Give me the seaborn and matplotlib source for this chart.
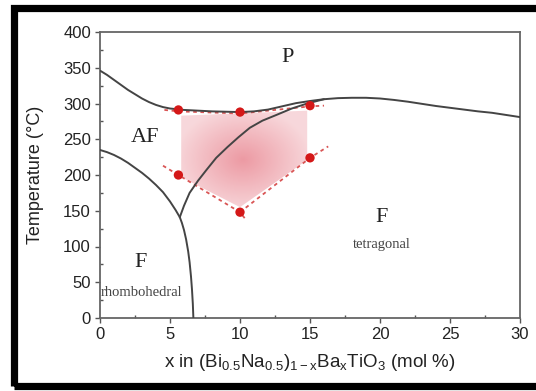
import numpy as np
import pandas as pd
import matplotlib
matplotlib.use('Agg')
import matplotlib.pyplot as plt
from matplotlib.patches import Polygon, Rectangle
import seaborn as sns

# phase boundaries
tc_x = [0, 0.5, 1, 1.5, 2, 2.5, 3, 3.5, 4, 4.5, 5, 6, 7, 8, 9, 10, 11, 12, 13, 14, 15,
        16, 17, 18, 19, 20, 21, 22, 23, 24, 25, 26, 27, 28, 29, 30]
tc_T = [346, 340, 333, 326, 319, 313, 307, 302, 298, 295, 293, 291, 290, 289, 288.5, 288,
        289, 291.5, 296, 300.5, 303.5, 306, 307.5, 308, 308, 307, 305, 302.5, 299.5, 296.5,
        294, 291.5, 289, 287, 284, 281]

af_x = [0, 0.5, 1, 1.5, 2, 2.5, 3, 3.5, 4, 4.5, 5, 5.4, 5.7]
af_T = [235, 232, 228, 223, 217, 210, 203, 195, 186, 176, 163, 151, 141]

rh_x = [5.7, 5.85, 6.0, 6.15, 6.3, 6.4, 6.5, 6.57, 6.63, 6.67]
rh_T = [141, 133, 123, 110, 93, 78, 58, 40, 20, 0]

mpb_x = [5.7, 6.0, 6.4, 7.0, 7.6, 8.3, 9.1, 9.9, 10.7, 11.6, 12.6, 13.7, 14.8, 16.0]
mpb_T = [141, 157, 175, 192, 207, 224, 239, 253, 266, 276, 284, 293, 300, 306]

# measured points (red dots)
pt_x = [5.6, 10, 15, 5.6, 10, 15]
pt_T = [291, 288, 297, 200, 148, 224]

# dashed guide lines
top_x = [4.6, 5.6, 10, 15, 16]
top_T = [291, 289, 286, 296, 297]
low_l_x = [4.5, 5.6, 10, 10.4]
low_l_T = [213, 200, 148, 138]
low_r_x = [10, 15, 16.3]
low_r_T = [148, 224, 240]

# shaded region outline
reg_x = [5.8, 14.8, 14.8, 10, 5.8]
reg_T = [283, 290, 221, 155, 197]

sns.set_theme(style='ticks')
plt.rcParams['font.family'] = ['Liberation Sans', 'DejaVu Sans']
plt.rcParams['mathtext.default'] = 'regular'

fig = plt.figure(figsize=(5.36, 3.91), dpi=100)
ax = fig.add_axes([100/536, 1 - 318/391, 420/536, 286/391])

# pink shaded region with a soft radial gradient
poly = Polygon(np.column_stack([reg_x, reg_T]), closed=True, facecolor='none', edgecolor='none')
ax.add_patch(poly)
gx, gy = np.meshgrid(np.linspace(5.8, 14.8, 200), np.linspace(155, 290, 200))
r = np.sqrt(((gx - 10.2) / 5.0) ** 2 + ((gy - 221) / 75.0) ** 2)
alpha = np.clip(0.72 - 0.45 * r, 0.28, 0.72)
img = np.zeros(gx.shape + (4,))
img[..., 0] = 0.90
img[..., 1] = 0.45
img[..., 2] = 0.50
img[..., 3] = alpha
im = ax.imshow(img, extent=[5.8, 14.8, 155, 290], origin='lower', aspect='auto', zorder=1)
im.set_clip_path(poly)

line_col = '#444444'
for xs, ts in [(tc_x, tc_T), (af_x, af_T), (rh_x, rh_T), (mpb_x, mpb_T)]:
    sns.lineplot(x=xs, y=ts, ax=ax, color=line_col, lw=1.4, sort=False, zorder=3)

red = '#d95555'
for xs, ts in [(top_x, top_T), (low_l_x, low_l_T), (low_r_x, low_r_T)]:
    sns.lineplot(x=xs, y=ts, ax=ax, color=red, lw=1.3, sort=False, dashes=False,
                 linestyle=(0, (2, 2)), zorder=2)

sns.scatterplot(x=pt_x, y=pt_T, ax=ax, color='#d41818', s=45, edgecolor='none', zorder=4)

ax.set_xlim(0, 30)
ax.set_ylim(0, 400)
ax.set_xticks(range(0, 31, 5))
ax.set_yticks(range(0, 401, 50))
ax.set_xticks(np.arange(0, 30.1, 2.5), minor=True)
ax.set_yticks(range(0, 401, 25), minor=True)
ax.tick_params(which='major', direction='out', length=3.5, width=1, color='#555',
               labelsize=12, labelcolor='#222', pad=3)
ax.tick_params(which='minor', direction='in', length=2.5, width=1, color='#555')
for s in ax.spines.values():
    s.set_visible(True)
    s.set_color('#666')
    s.set_linewidth(1.3)

ax.set_ylabel('Temperature (°C)', fontsize=13, color='#222', labelpad=14)
ax.set_xlabel(r'x in (Bi$_{0.5}$Na$_{0.5}$)$_{1-x}$Ba$_x$TiO$_3$ (mol %)',
              fontsize=13.5, color='#222', labelpad=7)

serif = ['Liberation Serif', 'DejaVu Serif']
ax.text(13.4, 364, 'P', family=serif, fontsize=16, ha='center', va='center', color='#222')
ax.text(3.2, 253, 'AF', family=serif, fontsize=16, ha='center', va='center', color='#222')
ax.text(2.9, 78, 'F', family=serif, fontsize=16, ha='center', va='center', color='#222')
ax.text(3.0, 36, 'rhombohedral', family=serif, fontsize=10.5, ha='center', va='center', color='#444')
ax.text(20.1, 140, 'F', family=serif, fontsize=16, ha='center', va='center', color='#222')
ax.text(20.1, 103, 'tetragonal', family=serif, fontsize=10.5, ha='center', va='center', color='#444')

# thick black frame around the picture
fig.patches.append(Rectangle((13.5/536, 1 - 385.5/391), (545 - 13.5)/536, (385.5 - 8)/391,
                             transform=fig.transFigure, fill=False, edgecolor='black',
                             linewidth=5.2, zorder=10))

plt.savefig('out.png', dpi=100)
